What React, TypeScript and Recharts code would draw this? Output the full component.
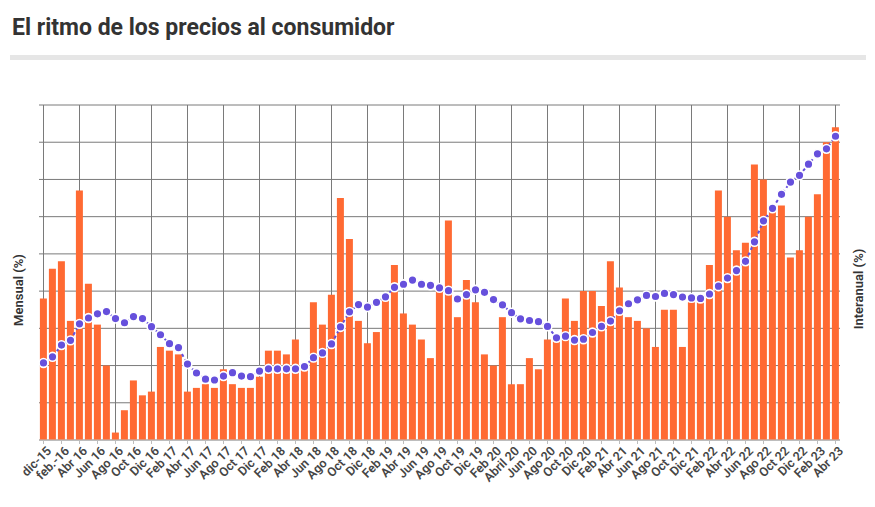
import { Bar, CartesianGrid, ComposedChart, Line, XAxis, YAxis } from "recharts";

const meses = [
  "dic-15", "Ene 16", "feb.-16", "Mar 16", "Abr 16", "May 16", "Jun 16", "Jul 16", "Ago 16", "Sep 16", "Oct 16", "Nov 16",
  "Dic 16", "Ene 17", "Feb 17", "Mar 17", "Abr 17", "May 17", "Jun 17", "Jul 17", "Ago 17", "Sep 17", "Oct 17", "Nov 17",
  "Dic 17", "Ene 18", "Feb 18", "Mar 18", "Abr 18", "May 18", "Jun 18", "Jul 18", "Ago 18", "Sep 18", "Oct 18", "Nov 18",
  "Dic 18", "Ene 19", "Feb 19", "Mar 19", "Abr 19", "May 19", "Jun 19", "Jul 19", "Ago 19", "Sep 19", "Oct 19", "Nov 19",
  "Dic 19", "Ene 20", "Feb 20", "Mar 20", "Abril 20", "May 20", "Jun 20", "Jul 20", "Ago 20", "Sep 20", "Oct 20", "Nov 20",
  "Dic 20", "Ene 21", "Feb 21", "Mar 21", "Abr 21", "May 21", "Jun 21", "Jul 21", "Ago 21", "Sep 21", "Oct 21", "Nov 21",
  "Dic 21", "Ene 22", "Feb 22", "Mar 22", "Abr 22", "May 22", "Jun 22", "Jul 22", "Ago 22", "Sep 22", "Oct 22", "Nov 22",
  "Dic 22", "Ene 23", "Feb 23", "Mar 23", "Abr 23",
];

// variación mensual (%)
const mensual = [
  3.8, 4.6, 4.8, 3.2, 6.7, 4.2, 3.1, 2.0, 0.2, 0.8, 1.6, 1.2,
  1.3, 2.5, 2.4, 2.3, 1.3, 1.4, 1.5, 1.4, 1.9, 1.5, 1.4, 1.4,
  1.7, 2.4, 2.4, 2.3, 2.7, 2.0, 3.7, 3.1, 3.9, 6.5, 5.4, 3.2,
  2.6, 2.9, 3.8, 4.7, 3.4, 3.1, 2.7, 2.2, 4.0, 5.9, 3.3, 4.3,
  3.7, 2.3, 2.0, 3.3, 1.5, 1.5, 2.2, 1.9, 2.7, 2.8, 3.8, 3.2,
  4.0, 4.0, 3.6, 4.8, 4.1, 3.3, 3.2, 3.0, 2.5, 3.5, 3.5, 2.5,
  3.7, 3.7, 4.7, 6.7, 6.0, 5.1, 5.3, 7.4, 7.0, 6.2, 6.3, 4.9,
  5.1, 6.0, 6.6, 8.0, 8.4,
];

// variación interanual (%)
const interanual = [
  27.6, 29.8, 34.0, 35.7, 41.6, 43.7, 45.2, 46.0, 43.5, 42.0, 44.2, 43.5,
  40.6, 37.7, 34.5, 33.1, 27.2, 24.0, 21.8, 21.5, 22.9, 24.1, 22.9, 22.7,
  24.7, 25.5, 25.5, 25.5, 25.5, 26.3, 29.5, 31.2, 34.4, 40.5, 45.9, 48.5,
  47.6, 49.3, 51.3, 54.7, 55.8, 57.3, 55.8, 55.4, 54.5, 53.5, 50.5, 52.1,
  53.8, 52.9, 50.3, 48.4, 45.6, 43.4, 42.8, 42.4, 40.7, 36.6, 37.2, 35.8,
  36.1, 38.5, 40.7, 42.6, 46.3, 48.8, 50.2, 51.8, 51.4, 52.5, 52.1, 51.2,
  50.9, 50.7, 52.3, 55.1, 58.0, 60.7, 64.0, 71.0, 78.5, 83.0, 88.0, 92.4,
  94.8, 98.8, 102.5, 104.3, 108.8,
];

const mensualTicks = [0, 1, 2, 3, 4, 5, 6, 7, 8, 9];
const MENSUAL_MAX = 9;

// meses con etiqueta (uno de cada dos)
const mesesEtiqueta = meses.filter((_, i) => i % 2 === 0);

const data = meses.map((mes, i) => ({ mes, mensual: mensual[i], interanual: interanual[i] }));

const FONT = "Roboto, 'Open Sans', sans-serif";

// líneas horizontales en cada punto del eje mensual
function horizontales({ offset }: any) {
  return mensualTicks.map((t) => offset.top + offset.height * (1 - t / MENSUAL_MAX));
}

function MesTick(props: any) {
  const { x, y, payload } = props;
  return (
    <g transform={`translate(${x},${y})`}>
      <text
        x={0}
        y={0}
        dy={10}
        dx={2}
        textAnchor="end"
        transform="rotate(-45)"
        fontFamily={FONT}
        fontSize={12.5}
        fontWeight={600}
        fill="#454545"
      >
        {payload.value}
      </text>
    </g>
  );
}

function Punto(props: any) {
  const { cx, cy, index } = props;
  if (cx == null || cy == null) return null;
  return <circle key={index} cx={cx} cy={cy} r={4.4} fill="#6650dc" stroke="#fff" strokeWidth={1.6} />;
}

export default function App() {
  return (
    <div style={{ position: "relative", width: 875, height: 507, margin: -8, background: "#fff", fontFamily: FONT }}>
      <div
        style={{
          position: "absolute",
          left: 12,
          top: 14,
          fontSize: 23,
          fontWeight: 700,
          color: "#333",
          whiteSpace: "nowrap",
        }}
      >
        El ritmo de los precios al consumidor
      </div>
      <div style={{ position: "absolute", left: 10, top: 55, width: 856, height: 5, background: "#e6e6e6" }} />
      <div
        style={{
          position: "absolute",
          left: 18,
          top: 290,
          transform: "translate(-50%, -50%) rotate(-90deg)",
          fontSize: 13,
          fontWeight: 600,
          color: "#333",
          whiteSpace: "nowrap",
        }}
      >
        Mensual (%)
      </div>
      <div
        style={{
          position: "absolute",
          left: 858,
          top: 289,
          transform: "translate(-50%, -50%) rotate(-90deg)",
          fontSize: 13,
          fontWeight: 600,
          color: "#333",
          whiteSpace: "nowrap",
        }}
      >
        Interanual (%)
      </div>
      <div style={{ position: "absolute", left: 0, top: 0 }}>
        <ComposedChart
          width={875}
          height={507}
          data={data}
          margin={{ top: 105, right: 5, bottom: 0, left: 8 }}
          barCategoryGap="10%"
        >
          {/* verticales: una por cada etiqueta del eje x */}
          <CartesianGrid horizontal={false} stroke="#7a7a7a" strokeWidth={1} verticalValues={mesesEtiqueta} />
          <CartesianGrid
            vertical={false}
            stroke="#7a7a7a"
            strokeWidth={1}
            horizontalCoordinatesGenerator={horizontales}
          />
          <XAxis
            dataKey="mes"
            interval={1}
            height={67}
            tick={<MesTick />}
            tickSize={4}
            axisLine={{ stroke: "#bdbdbd" }}
            tickLine={{ stroke: "#bdbdbd" }}
          />
          <YAxis
            yAxisId="left"
            width={31}
            domain={[0, MENSUAL_MAX]}
            ticks={mensualTicks}
            tick={false}
            axisLine={false}
            tickLine={false}
          />
          <YAxis
            yAxisId="right"
            orientation="right"
            width={30}
            domain={[0, 120]}
            tick={false}
            axisLine={false}
            tickLine={false}
          />
          <Bar yAxisId="left" dataKey="mensual" fill="#ff6a33" isAnimationActive={false} />
          <Line
            yAxisId="right"
            dataKey="interanual"
            type="linear"
            stroke="#6650dc"
            strokeWidth={2}
            strokeDasharray="3 3"
            dot={<Punto />}
            activeDot={false}
            isAnimationActive={false}
          />
        </ComposedChart>
      </div>
    </div>
  );
}
